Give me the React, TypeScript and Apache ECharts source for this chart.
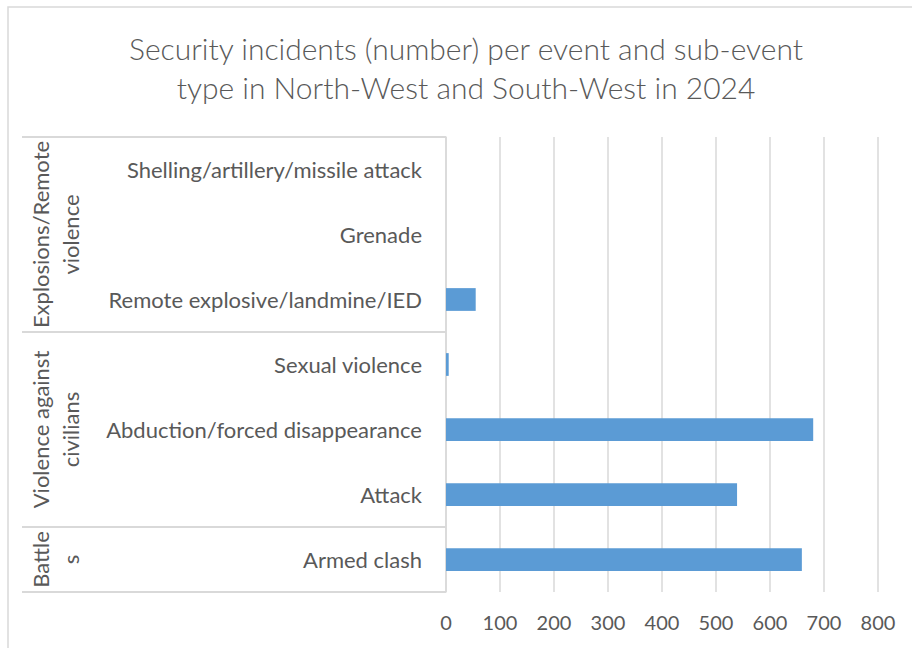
import React, { useEffect, useRef } from "react";
import * as echarts from "echarts";

// Categories listed bottom-to-top (as in the original category axis)
const subEvents = [
  "Armed clash",
  "Attack",
  "Abduction/forced disappearance",
  "Sexual violence",
  "Remote explosive/landmine/IED",
  "Grenade",
  "Shelling/artillery/missile attack",
];
const incidents = [659, 539, 680, 5, 55, 0, 0];
// Event groups, bottom-to-top, with number of sub-events each spans
const groupNames = ["Battle\ns", "Violence against\ncivilians", "Explosions/Remote\nviolence"];
const groupSizes = [1, 3, 3];
const xTicks = [0, 100, 200, 300, 400, 500, 600, 700, 800];
const titleText = "Security incidents (number) per event and sub-event\ntype in North-West and South-West in 2024";

const TEXT = "#595959";
const LINE = "#d9d9d9";
const BAR = "#5b9bd5";
const FONT = "Lato, 'Open Sans', sans-serif";

export default function App() {
  const ref = useRef<HTMLDivElement>(null);
  useEffect(() => {
    document.body.style.margin = "0";
    if (!ref.current) return;
    const chart = echarts.init(ref.current, null, { renderer: "svg" });
    const gridLeft = 446;
    chart.setOption({
      animation: false,
      backgroundColor: "#fff",
      grid: { left: gridLeft, right: 34, top: 137, bottom: 56, containLabel: false },
      xAxis: {
        type: "value",
        min: xTicks[0],
        max: xTicks[xTicks.length - 1],
        interval: 100,
        axisLine: { show: false },
        axisTick: { show: false },
        splitLine: { show: true, lineStyle: { color: LINE, width: 1.5 } },
        axisLabel: { fontFamily: FONT, fontSize: 20, color: TEXT, margin: 20 },
      },
      yAxis: {
        type: "category",
        data: subEvents,
        axisLine: { show: true, lineStyle: { color: LINE, width: 1.5 } },
        axisTick: { show: false },
        axisLabel: { fontFamily: FONT, fontSize: 22, color: TEXT, margin: 24 },
      },
      series: [
        {
          type: "bar",
          data: incidents,
          barWidth: "35%",
          itemStyle: { color: BAR },
        },
      ],
    });

    // Build the multi-level category axis decoration from the axis scale
    const c0 = chart.convertToPixel({ yAxisIndex: 0 }, 0) as number;
    const c1 = chart.convertToPixel({ yAxisIndex: 0 }, 1) as number;
    const step = c1 - c0; // negative (bottom to top)
    const lineLeft = 22;
    const elements: any[] = [
      {
        type: "rect",
        shape: { x: 8, y: 7, width: 920, height: 700 },
        style: { fill: "none", stroke: LINE, lineWidth: 1.5 },
        silent: true,
      },
      {
        type: "text",
        x: 466,
        y: 28,
        style: {
          text: titleText,
          fontFamily: FONT,
          fontWeight: 300,
          fontSize: 30,
          fill: TEXT,
          align: "center",
          verticalAlign: "top",
          lineHeight: 39,
        },
      },
    ];
    let start = 0;
    const boundary = (i: number) => c0 + step * (i - 0.5);
    elements.push({
      type: "line",
      shape: { x1: lineLeft, y1: boundary(0), x2: gridLeft, y2: boundary(0) },
      style: { stroke: LINE, lineWidth: 2 },
    });
    groupNames.forEach((name, gi) => {
      const end = start + groupSizes[gi];
      const yb = boundary(end);
      const ya = boundary(start);
      elements.push({
        type: "line",
        shape: { x1: lineLeft, y1: yb, x2: gridLeft, y2: yb },
        style: { stroke: LINE, lineWidth: 2 },
      });
      elements.push({
        type: "text",
        x: 55,
        y: (ya + yb) / 2,
        rotation: Math.PI / 2,
        style: {
          text: name,
          fontFamily: FONT,
          fontSize: 22,
          fill: TEXT,
          align: "center",
          verticalAlign: "middle",
          lineHeight: 30,
        },
      });
      start = end;
    });
    chart.setOption({ graphic: { elements } });

    return () => chart.dispose();
  }, []);
  return <div ref={ref} style={{ width: 912, height: 648 }} />;
}
